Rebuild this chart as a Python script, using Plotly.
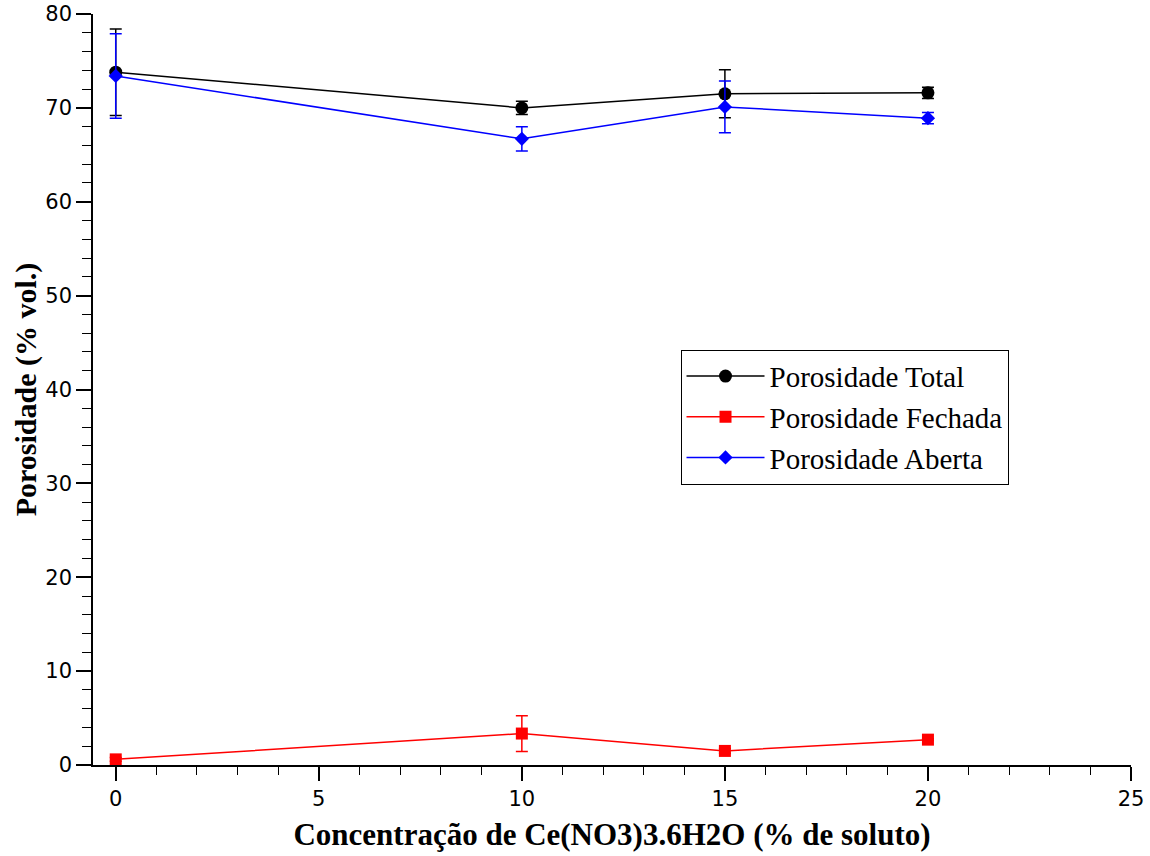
import plotly.graph_objects as go

x_vals = [0, 10, 15, 20]

total = [73.8, 70.0, 71.5, 71.6]
total_err = [4.6, 0.7, 2.55, 0.6]

fechada = [0.6, 3.35, 1.5, 2.7]
fechada_err = [0.2, 1.9, 0.25, 0.1]

aberta = [73.4, 66.7, 70.1, 68.9]
aberta_err = [4.5, 1.3, 2.75, 0.6]

x_ticks = [0, 5, 10, 15, 20, 25]
y_ticks = [0, 10, 20, 30, 40, 50, 60, 70, 80]

series = [
    ("Porosidade Total", total, total_err, "black", "circle", 13),
    ("Porosidade Fechada", fechada, fechada_err, "red", "square", 12),
    ("Porosidade Aberta", aberta, aberta_err, "blue", "diamond", 11),
]

fig = go.Figure()
for name, ys, errs, color, sym, size in series:
    fig.add_trace(go.Scatter(
        x=x_vals, y=ys, name=name, mode="lines+markers",
        line=dict(color=color, width=1.5),
        marker=dict(color=color, symbol=sym, size=size),
        error_y=dict(type="data", array=errs, visible=True, color=color,
                     thickness=1.5, width=6),
    ))

axis_font = dict(family="DejaVu Sans", size=21, color="black")

fig.update_layout(
    width=1150, height=856,
    margin=dict(l=93, r=19, t=14, b=91),
    plot_bgcolor="white", paper_bgcolor="white",
    showlegend=True,
    legend=dict(
        x=0.566, y=0.553, xanchor="left", yanchor="top",
        bordercolor="black", borderwidth=1, bgcolor="white",
        font=dict(family="Liberation Serif", size=29, color="black"),
        tracegroupgap=0, itemwidth=78,
    ),
    xaxis=dict(
        range=[-0.56, 25], tickvals=x_ticks, ticktext=[str(v) for v in x_ticks],
        automargin=False, ticklabeloverflow="allow",
        showgrid=False, zeroline=False, showline=True, linecolor="black", linewidth=1.5,
        ticks="outside", ticklen=14, tickwidth=1.5, tickcolor="black",
        tickfont=axis_font,
        minor=dict(dtick=1, ticks="outside", ticklen=8, tickwidth=1.2, tickcolor="black"),
        title=dict(text="<b>Concentração de Ce(NO3)3.6H2O (% de soluto)</b>",
                   font=dict(family="Liberation Serif", size=31, color="black"),
                   standoff=13),
    ),
    yaxis=dict(
        range=[0, 80], tickvals=y_ticks, ticktext=[str(v) for v in y_ticks],
        automargin=False, ticklabeloverflow="allow",
        showgrid=False, zeroline=False, showline=True, linecolor="black", linewidth=1.5,
        ticks="outside", ticklen=15, tickwidth=1.5, tickcolor="black",
        tickfont=axis_font,
        minor=dict(dtick=2, ticks="outside", ticklen=9, tickwidth=1.2, tickcolor="black"),
        title=dict(text="<b>Porosidade (% vol.)</b>",
                   font=dict(family="Liberation Serif", size=30, color="black"),
                   standoff=0),
    ),
)

fig.write_html("out.html", config={"displayModeBar": False},
               post_script="document.body.style.margin='0';")
